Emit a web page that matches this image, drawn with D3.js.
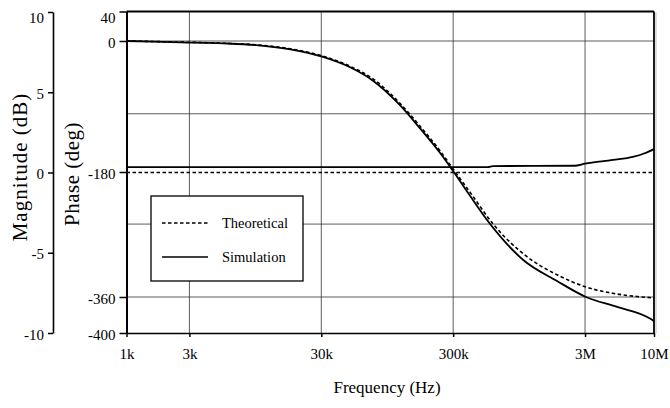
<!DOCTYPE html>
<html>
<head>
<meta charset="utf-8">
<script src="https://cdn.jsdelivr.net/npm/d3@7"></script>
<style>
  body { margin: 0; background: #fff; }
  svg, svg text { font-family: "Liberation Serif", "DejaVu Serif", serif; }
</style>
</head>
<body>
<div id="bode"></div>
<script>
// tick values and labels
const freqTicks = [1e3, 3e3, 3e4, 3e5, 3e6, 1e7];
const freqLabels = ["1k", "3k", "30k", "300k", "3M", "10M"];
const magTicks = [10, 5, 0, -5, -10];
const phaseTicks = [40, 0, -180, -360, -400];
const phaseGrid = [0, -100, -255, -360];

// phase curves (Hz, deg)
const simPhaseFreq = [1e3, 2.6e3, 5.4e3, 1e4, 1.75e4, 3.05e4, 5e4, 7.4e4, 1.19e5, 1.69e5, 2.39e5, 2.95e5, 4.04e5, 5.72e5, 1.02e6, 1.84e6, 3.05e6, 5.25e6, 9.33e6, 1e7];
const simPhase = [0, -1.8, -3.2, -5.9, -11.4, -21.6, -36.5, -54.5, -88.5, -120.5, -154, -177, -214.6, -254.9, -306.7, -337, -360, -371, -384, -387];
const theoPhaseFreq = [1e3, 2.6e3, 5.4e3, 1e4, 1.75e4, 3.05e4, 5e4, 7.4e4, 1.19e5, 1.69e5, 2.39e5, 3.11e5, 4.04e5, 6.03e5, 1.09e6, 1.84e6, 3.05e6, 5.25e6, 1e7];
const theoPhase = [0, -1.5, -3, -5.5, -10.8, -20.5, -35, -52, -86, -117.5, -151, -180, -209.5, -255, -302, -328, -345.6, -355.7, -361];

// magnitude curves (Hz, dB)
const simMagFreq = [1e3, 5.5e5, 6e5, 2.5e6, 3e6, 4.9e6, 6.9e6, 8.5e6, 1e7];
const simMag = [0.34, 0.34, 0.4, 0.42, 0.55, 0.78, 0.97, 1.2, 1.46];
const theoMagFreq = [1e3, 1e7];
const theoMag = [0, 0];

const width = 670, height = 408;
const serif = "Liberation Serif";

const svg = d3.select("#bode")
    .append("svg")
        .attr("width", width)
        .attr("height", height)
        .attr("font-family", serif);

// scales
const x = d3.scaleLog()
    .domain([1e3, 1e7])
    .range([126.5, 654]);

const yMag = d3.scaleLinear()
    .domain([-10, 10])
    .range([333, 12]);

// the phase axis of the original is not evenly spaced
const yPhase = d3.scaleLinear()
    .domain([40, 0, -180, -360, -400])
    .range([11.5, 41, 172, 297, 333]);

// grid
const grid = svg.append("g")
    .attr("stroke", "#333")
    .attr("stroke-width", 0.8);

grid.selectAll("line.v")
    .data(freqTicks.slice(1, -1))
    .join("line")
        .attr("class", "v")
        .attr("x1", d => x(d))
        .attr("x2", d => x(d))
        .attr("y1", yPhase(40))
        .attr("y2", yPhase(-400));

grid.selectAll("line.h")
    .data(phaseGrid)
    .join("line")
        .attr("class", "h")
        .attr("x1", x(1e3))
        .attr("x2", x(1e7))
        .attr("y1", d => yPhase(d))
        .attr("y2", d => yPhase(d));

// curves
const phaseLine = d3.line()
    .x(d => x(d[0]))
    .y(d => yPhase(d[1]))
    .curve(d3.curveMonotoneX);

const magLine = d3.line()
    .x(d => x(d[0]))
    .y(d => yMag(d[1]))
    .curve(d3.curveMonotoneX);

const chart = svg.append("g")
    .attr("fill", "none")
    .attr("stroke", "#000");

chart.append("path")
    .attr("d", magLine(d3.zip(theoMagFreq, theoMag)))
    .attr("stroke-width", 1.4)
    .attr("stroke-dasharray", "3.5,2.5");

chart.append("path")
    .attr("d", phaseLine(d3.zip(theoPhaseFreq, theoPhase)))
    .attr("stroke-width", 1.6)
    .attr("stroke-dasharray", "3.5,2.5");

chart.append("path")
    .attr("d", magLine(d3.zip(simMagFreq, simMag)))
    .attr("stroke-width", 1.8);

chart.append("path")
    .attr("d", phaseLine(d3.zip(simPhaseFreq, simPhase)))
    .attr("stroke-width", 1.8);

// frame top and right
svg.append("line")
    .attr("x1", x(1e3)).attr("x2", x(1e7))
    .attr("y1", yPhase(40)).attr("y2", yPhase(40))
    .attr("stroke", "#000").attr("stroke-width", 2);

svg.append("line")
    .attr("x1", x(1e7)).attr("x2", x(1e7))
    .attr("y1", yPhase(40)).attr("y2", yPhase(-400))
    .attr("stroke", "#000").attr("stroke-width", 1.8);

svg.append("line")
    .attr("x1", x(1e7) + 2).attr("x2", x(1e7) + 2)
    .attr("y1", yPhase(40) + 1).attr("y2", yPhase(-400))
    .attr("stroke", "#bbb").attr("stroke-width", 1);

// legend
const legend = svg.append("g");

legend.append("rect")
    .attr("x", 151).attr("y", 196)
    .attr("width", 152).attr("height", 85)
    .attr("fill", "#fff")
    .attr("stroke", "#000")
    .attr("stroke-width", 1.3);

const legendItems = [
    {label: "Theoretical", dash: "3.5,2.5", y: 223},
    {label: "Simulation", dash: null, y: 257}
];

legend.selectAll("line")
    .data(legendItems)
    .join("line")
        .attr("x1", 162).attr("x2", 208)
        .attr("y1", d => d.y).attr("y2", d => d.y)
        .attr("stroke", "#000")
        .attr("stroke-width", 1.6)
        .attr("stroke-dasharray", d => d.dash);

legend.selectAll("text")
    .data(legendItems)
    .join("text")
        .attr("x", 222)
        .attr("y", d => d.y)
        .attr("dy", "0.35em")
        .attr("font-family", serif)
        .attr("font-size", 14.5)
        .text(d => d.label);

// axes
function styleAxis(g, w){
    g.attr("font-family", serif).attr("font-size", 15);
    g.select(".domain").attr("stroke-width", w);
    g.selectAll(".tick line").attr("stroke-width", 1.5);
    g.selectAll(".tick text").attr("fill", "#000");
}

svg.append("g")
    .attr("transform", "translate(53,0)")
    .call(d3.axisLeft(yMag).tickValues(magTicks).tickFormat(d => String(d))
        .tickSize(5).tickPadding(4).tickSizeOuter(0))
    .call(g => styleAxis(g, 1.6))
    .call(g => g.selectAll(".tick text").attr("dy", d => d === 10 ? "0.7em" : "0.4em"));

svg.append("g")
    .attr("transform", `translate(${x(1e3)},0)`)
    .call(d3.axisLeft(yPhase).tickValues(phaseTicks).tickFormat(d => String(d))
        .tickSize(7).tickPadding(4).tickSizeOuter(0))
    .call(g => styleAxis(g, 2))
    .call(g => g.selectAll(".tick text").attr("dy", d => d === 40 ? "0.7em" : "0.42em"));

svg.append("g")
    .attr("transform", `translate(0,${yPhase(-400)})`)
    .call(d3.axisBottom(x).tickValues(freqTicks).tickFormat((d, i) => freqLabels[i])
        .tickSize(4).tickSizeOuter(0))
    .call(g => styleAxis(g, 1.6))
    .call(g => g.selectAll(".tick text").attr("y", 21).attr("dy", "0.35em"));

// axis titles
svg.append("text")
    .attr("transform", "translate(27,167) rotate(-90)")
    .attr("text-anchor", "middle")
    .attr("font-family", serif)
    .attr("font-size", 21)
    .attr("letter-spacing", 1)
    .text("Magnitude (dB)");

svg.append("text")
    .attr("transform", "translate(79,174) rotate(-90)")
    .attr("text-anchor", "middle")
    .attr("font-family", serif)
    .attr("font-size", 21)
    .attr("letter-spacing", 0.5)
    .text("Phase (deg)");

svg.append("text")
    .attr("x", 387)
    .attr("y", 393)
    .attr("text-anchor", "middle")
    .attr("font-family", serif)
    .attr("font-size", 17)
    .text("Frequency (Hz)");
</script>
</body>
</html>
